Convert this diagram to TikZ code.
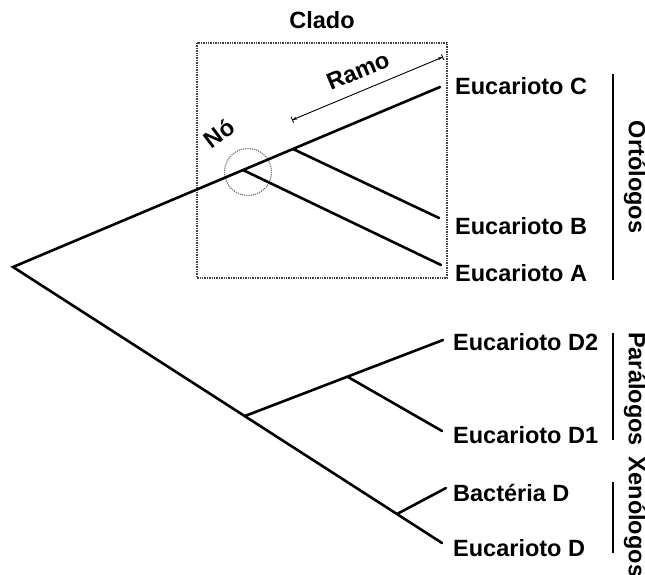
\documentclass[tikz,border=0pt]{standalone}
\usepackage{fontspec}
\setmainfont{Liberation Sans}
\usetikzlibrary{arrows.meta}
\begin{document}
\begin{tikzpicture}[x=1pt,y=-1pt,
  branch/.style={line width=2.6pt, line cap=round},
  lbl/.style={font=\fontsize{23.5}{27}\selectfont\bfseries, inner sep=0pt},
  leaf/.style={lbl, anchor=west},
  grp/.style={line width=2.6pt},
  cladebox/.style={densely dotted, line width=1.4pt, black!75},
  nodecircle/.style={densely dotted, line width=1.2pt, black!55},
  ramoarrow/.style={line width=0.9pt, {Bar[width=6pt]Stealth[length=4pt,width=3pt]}-{Stealth[length=4pt,width=3pt]Bar[width=6pt]}}
]
\useasboundingbox (0,0) rectangle (645,575);

% tree points
\coordinate (root) at (13,267);
\coordinate (n1) at (243,170);
\coordinate (n2) at (293,149);
\coordinate (n3) at (245,416);
\coordinate (n4) at (348,377);
\coordinate (n5) at (397,514);
\coordinate (tC) at (440,87);
\coordinate (tB) at (439,218);
\coordinate (tA) at (441,265);
\coordinate (tD2) at (443,340);
\coordinate (tD1) at (442,431);
\coordinate (tBac) at (446,488);
\coordinate (tD) at (442,543);

% clade box and node circle
\draw[cladebox] (197,43) rectangle (447,278);
\draw[nodecircle] (248,172) circle (23.5);

% branches
\draw[branch] (tC) -- (root) -- (tD);
\draw[branch] (n1) -- (tA);
\draw[branch] (n2) -- (tB);
\draw[branch] (n3) -- (tD2);
\draw[branch] (n4) -- (tD1);
\draw[branch] (n5) -- (tBac);

% Ramo arrow
\coordinate (r1) at (292,120);
\coordinate (r2) at (443,57);
\draw[ramoarrow] (r1) -- (r2);
\node[lbl, rotate=22.6] (ramo) at (358,71) {Ramo};
\node[lbl, rotate=37] (no) at (219,133) {Nó};
\node[lbl] (clado) at (322,20) {Clado};

% leaf labels
\node[leaf] (lC) at (455,86) {Eucarioto C};
\node[leaf] (lB) at (455,226) {Eucarioto B};
\node[leaf] (lA) at (455,273) {Eucarioto A};
\node[leaf] (lD2) at (453,342) {Eucarioto D2};
\node[leaf] (lD1) at (453,435) {Eucarioto D1};
\node[leaf] (lBac) at (453,493) {Bactéria D};
\node[leaf] (lD) at (453,548) {Eucarioto D};

% group bars and labels
\coordinate (o1) at (613,74);
\coordinate (o2) at (613,280);
\coordinate (p1) at (613,333);
\coordinate (p2) at (613,440);
\coordinate (x1) at (613,482);
\coordinate (x2) at (613,553);
\draw[grp] (o1) -- (o2);
\draw[grp] (p1) -- (p2);
\draw[grp] (x1) -- (x2);
\node[lbl, rotate=-90] (orto) at (635,177) {Ortólogos};
\node[lbl, rotate=-90] (para) at (635,389) {Parálogos};
\node[lbl, rotate=-90] (xeno) at (635,517) {Xenólogos};
\end{tikzpicture}
\end{document}
